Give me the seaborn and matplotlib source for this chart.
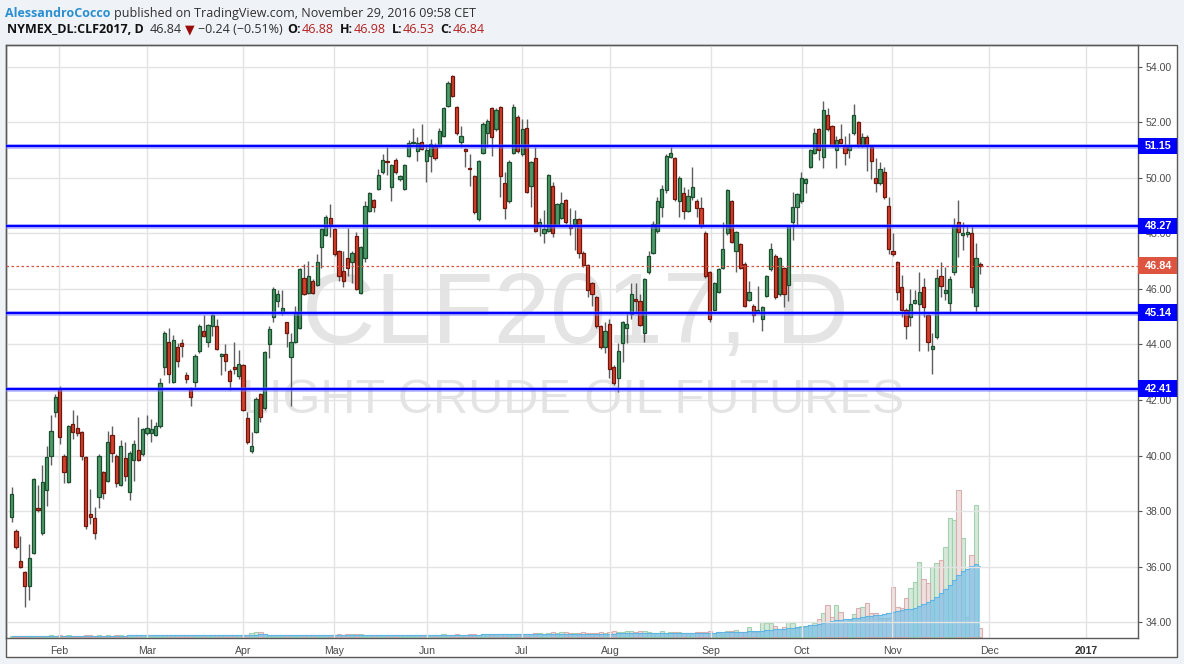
import numpy as np
import pandas as pd
import matplotlib
matplotlib.use("Agg")
import matplotlib.pyplot as plt
import matplotlib.transforms as mtransforms
from matplotlib.patches import Rectangle
import seaborn as sns

# ---------------- data ----------------
opens = [37.8, 37.3, 36.2, 35.8, 35.3, 36.5, 38.1, 37.2, 38.75, 40.0, 41.55, 42.4, 40.0, 39.05, 41.15, 41.0, 40.85, 39.95, 37.9, 37.75,
         38.5, 39.4, 39.1, 40.75, 40.0, 38.95, 39.9, 38.7, 39.85, 40.2, 40.05, 40.8, 40.8, 40.75, 41.05, 43.2, 44.1, 42.65, 43.9, 44.05,
         42.9, 42.4, 42.65, 43.75, 44.5, 44.1, 44.65, 44.65, 43.6, 43.65, 43.05, 43.2, 42.85, 43.25, 41.35, 40.15, 40.85, 42.2, 41.7, 44.0,
         45.0, 45.55, 45.15, 44.8, 43.55, 44.1, 44.6, 46.4, 45.85, 46.3, 46.15, 47.5, 47.95, 48.55, 48.15, 47.35, 46.65, 47.1, 46.95, 47.9,
         45.85, 47.1, 48.8, 49.2, 49.6, 50.2, 50.6, 49.65, 50.65, 49.95, 49.6, 50.8, 51.25, 50.95, 51.3, 50.6, 50.8, 51.15, 51.15, 51.5,
         52.6, 53.65, 52.55, 51.3, 51.05, 50.35, 50.05, 48.5, 50.9, 51.6, 52.5, 51.75, 52.55, 49.8, 49.15, 50.9, 52.2, 50.85, 51.8, 49.7,
         50.7, 48.25, 48.0, 48.1, 49.7, 48.3, 48.55, 49.2, 48.3, 48.35, 48.5, 47.3, 46.85, 46.2, 45.7, 44.65, 43.9, 44.75, 43.2, 42.8,
         44.05, 44.6, 45.1, 45.65, 45.55, 44.4, 46.6, 47.3, 48.1, 48.95, 49.55, 50.75, 50.7, 49.15, 49.45, 48.8, 49.3, 49.15, 48.9, 48.0,
         46.6, 45.25, 45.9, 46.75, 48.0, 49.15, 47.35, 47.6, 46.9, 45.6, 45.4, 45.18, 44.9, 45.75, 46.7, 47.2, 45.8, 46.75, 46.15, 48.4,
         48.95, 49.15, 49.8, 50.4, 50.9, 51.75, 50.75, 52.25, 51.85, 51.0, 51.4, 51.15, 51.0, 51.6, 52.0, 51.15, 51.45, 51.1, 50.0, 49.8,
         50.2, 49.0, 47.35, 46.95, 46.05, 45.25, 45.0, 45.5, 45.45, 46.05, 45.05, 43.85, 44.25, 46.45, 45.85, 45.5, 46.6, 48.4, 47.95, 47.98,
         48.0, 45.4, 46.88]
highs = [38.87, 37.35, 37.1, 35.85, 36.8, 39.2, 38.95, 39.65, 40.35, 41.45, 42.2, 42.5, 40.05, 41.1, 41.65, 41.45, 40.9, 40.0, 38.8, 38.15,
         40.05, 39.45, 40.9, 41.05, 40.05, 40.55, 40.5, 40.15, 40.55, 41.4, 41.0, 41.45, 41.3, 41.2, 42.8, 44.5, 44.6, 44.35, 44.05, 44.2,
         43.0, 42.47, 43.65, 44.75, 45.05, 44.75, 45.1, 44.9, 43.7, 44.0, 43.1, 44.1, 43.8, 43.3, 41.55, 40.85, 42.1, 42.25, 43.75, 44.65,
         46.05, 45.95, 45.95, 44.82, 44.4, 45.4, 46.75, 46.9, 47.0, 46.35, 47.25, 48.2, 48.65, 49.05, 48.2, 47.4, 47.35, 48.2, 47.35, 48.05,
         47.55, 49.15, 49.5, 49.25, 50.3, 50.85, 51.1, 50.5, 50.7, 50.1, 50.5, 51.35, 51.8, 51.45, 51.95, 51.2, 51.4, 51.25, 51.8, 52.55,
         53.5, 53.7, 52.6, 51.85, 51.08, 50.85, 50.1, 50.65, 52.0, 52.1, 52.55, 52.5, 52.6, 50.2, 50.65, 52.65, 52.25, 52.1, 52.1, 50.6,
         51.1, 48.55, 48.85, 50.15, 49.85, 49.1, 49.5, 49.25, 48.9, 48.85, 48.55, 47.35, 46.9, 46.25, 45.75, 44.7, 44.8, 44.9, 43.25, 44.05,
         44.85, 45.15, 46.2, 46.2, 45.8, 46.4, 47.35, 48.45, 49.3, 49.75, 50.85, 51.1, 50.75, 50.05, 49.65, 49.6, 50.4, 49.25, 49.3, 48.1,
         46.65, 46.25, 46.75, 48.4, 49.6, 49.2, 48.1, 47.65, 46.95, 46.3, 45.45, 46.1, 45.4, 46.5, 47.65, 47.25, 47.15, 46.8, 48.3, 49.5,
         49.45, 50.2, 50.0, 51.05, 51.8, 51.8, 52.75, 52.5, 51.9, 51.5, 51.95, 51.5, 51.6, 52.65, 52.05, 51.6, 51.55, 51.15, 50.7, 50.55,
         50.4, 49.3, 48.0, 47.0, 46.5, 45.3, 46.0, 45.95, 46.6, 46.4, 45.1, 44.4, 46.7, 46.95, 46.8, 46.45, 48.55, 49.2, 48.4, 48.3,
         48.3, 47.65, 46.98]
lows = [37.6, 36.65, 35.95, 34.55, 34.8, 36.45, 37.95, 37.15, 38.2, 39.65, 41.4, 40.4, 39.0, 39.0, 40.6, 40.7, 39.85, 37.35, 37.55, 37.0,
        38.1, 38.45, 39.05, 39.75, 38.85, 38.9, 39.1, 38.4, 39.1, 39.8, 40.0, 40.75, 40.5, 40.7, 41.0, 42.9, 42.6, 42.6, 43.2, 43.55,
        42.6, 41.8, 42.45, 43.7, 44.25, 43.9, 44.3, 43.8, 42.9, 43.05, 42.35, 42.95, 42.75, 41.6, 40.4, 40.1, 40.8, 41.2, 41.65, 43.5,
        44.8, 45.35, 45.05, 43.9, 41.8, 44.05, 44.55, 45.78, 45.8, 45.8, 46.1, 46.75, 47.9, 47.85, 47.2, 46.3, 46.05, 46.45, 46.2, 45.95,
        45.8, 46.95, 48.75, 48.75, 49.55, 50.15, 50.1, 49.15, 50.15, 49.9, 49.55, 50.75, 51.2, 50.6, 51.0, 49.85, 50.2, 50.65, 51.1, 51.45,
        52.55, 52.9, 51.55, 51.1, 50.4, 49.7, 48.7, 48.45, 50.85, 51.1, 50.8, 51.7, 49.3, 48.5, 49.1, 50.85, 50.9, 50.8, 49.45, 48.95,
        48.05, 47.9, 47.65, 48.05, 47.85, 48.25, 48.5, 48.35, 47.95, 47.4, 47.1, 46.8, 45.7, 45.4, 44.6, 43.85, 43.7, 42.8, 42.55, 42.3,
        43.35, 44.05, 44.9, 45.15, 44.65, 44.1, 46.55, 47.25, 48.0, 48.6, 49.45, 50.7, 49.15, 48.6, 48.5, 48.75, 49.2, 48.6, 48.2, 46.4,
        44.8, 45.2, 45.85, 46.7, 47.95, 47.65, 46.6, 46.7, 45.35, 45.55, 44.8, 45.15, 44.5, 45.7, 46.65, 45.65, 45.75, 45.35, 45.55, 47.75,
        48.25, 49.1, 49.45, 50.35, 50.85, 50.65, 50.35, 51.7, 51.1, 50.35, 51.2, 50.45, 50.7, 51.55, 51.1, 51.1, 50.25, 49.95, 49.5, 49.75,
        49.25, 47.25, 47.2, 45.6, 45.0, 44.2, 44.65, 45.45, 43.75, 45.0, 43.75, 42.95, 44.2, 45.7, 45.6, 45.15, 46.5, 47.15, 47.4, 47.85,
        45.85, 45.15, 46.53]
closes = [38.6, 36.7, 36.0, 35.3, 36.3, 39.15, 38.05, 39.05, 39.95, 40.9, 42.1, 40.65, 39.4, 41.05, 40.85, 40.8, 40.0, 37.45, 37.8, 37.2,
          40.0, 38.65, 40.5, 40.1, 39.0, 40.35, 39.25, 40.1, 40.4, 39.85, 40.95, 41.0, 40.95, 41.05, 42.6, 44.4, 42.95, 44.15, 43.4, 43.95,
          42.75, 42.1, 43.6, 44.65, 44.3, 44.7, 45.05, 43.85, 43.62, 43.4, 42.7, 43.1, 43.3, 41.65, 40.5, 40.35, 42.05, 41.4, 43.73, 44.55,
          46.0, 45.8, 45.3, 44.4, 44.1, 45.15, 46.7, 45.8, 46.45, 45.85, 46.95, 48.15, 48.6, 48.35, 47.25, 46.45, 46.3, 46.75, 47.3, 46.0,
          47.5, 49.0, 49.45, 48.95, 50.1, 50.65, 50.55, 50.45, 50.2, 50.05, 50.45, 51.25, 51.3, 51.25, 51.05, 51.0, 51.2, 50.7, 51.7, 52.5,
          53.4, 52.95, 51.6, 51.5, 50.98, 50.3, 48.75, 50.6, 51.95, 52.05, 51.45, 52.45, 50.05, 48.9, 50.55, 52.55, 50.95, 51.75, 49.5, 50.55,
          48.1, 48.4, 48.15, 50.1, 48.0, 49.05, 49.1, 48.4, 48.2, 48.5, 47.3, 46.85, 45.95, 45.8, 44.65, 43.9, 44.5, 43.1, 42.6, 43.75,
          44.8, 44.75, 45.8, 45.55, 44.7, 46.35, 47.2, 48.35, 49.15, 49.6, 50.8, 50.9, 49.25, 50.0, 48.8, 49.35, 49.65, 48.9, 48.25, 46.45,
          44.9, 46.2, 46.7, 47.45, 49.55, 47.7, 48.05, 46.75, 45.4, 45.9, 45.05, 45.22, 45.35, 46.45, 47.45, 45.7, 47.1, 45.8, 48.25, 48.95,
          49.4, 50.0, 49.95, 51.0, 51.6, 51.0, 52.45, 51.75, 51.15, 51.35, 51.25, 50.9, 51.15, 52.25, 51.15, 51.45, 51.15, 50.6, 49.8, 50.3,
          49.3, 47.45, 47.25, 45.9, 45.25, 44.65, 45.45, 45.6, 45.9, 45.35, 44.1, 43.95, 46.4, 46.1, 45.95, 46.35, 48.25, 48.05, 48.0, 48.02,
          46.05, 47.1, 46.84]
volumes = [0.8, 0.6, 0.7, 0.9, 0.8, 1.0, 0.7, 0.9, 1.0, 1.2, 1.1,
           1.3, 1.0, 1.2, 1.1, 0.9, 1.0, 1.4, 1.2, 1.0, 1.3, 1.1, 1.2, 1.0, 1.4, 1.2, 1.1, 1.3, 1.5, 1.2, 1.3,
           1.4, 1.2, 1.3, 1.6, 1.8, 1.5, 1.4, 1.6, 1.3, 1.2, 1.5, 1.4, 1.6, 1.5, 1.3, 1.4, 1.7, 1.5, 1.3, 1.4, 1.6, 1.5,
           1.8, 2.0, 3.5, 4.2, 4.8, 2.5, 2.0, 1.8, 1.6, 1.5, 1.7, 1.6, 1.4, 1.5, 1.8, 1.6, 1.5, 1.7, 1.9, 1.6,
           2.0, 1.8, 2.4, 1.9, 2.2, 2.6, 3.0, 2.4, 2.0, 1.8, 1.7, 1.9, 2.0, 1.8, 1.6, 1.7, 1.9, 1.8, 1.6, 1.5, 1.7, 1.8,
           1.6, 1.8, 2.0, 1.9, 2.2, 2.0, 1.8, 2.3, 2.1, 1.9, 2.4, 2.2, 2.0, 2.6, 2.3, 2.1, 2.5, 2.8, 2.4, 2.6, 2.2, 2.4,
           2.8, 3.0, 2.6, 3.2, 3.4, 2.9, 3.6, 4.2, 3.8, 5.0, 4.4, 3.6, 4.0, 3.8, 4.2, 3.6, 4.0, 3.8, 4.4, 4.0,
           4.6, 5.2, 4.4, 4.8, 5.6, 6.0, 4.8, 5.2, 5.8, 4.6,
           3.3, 3.3, 6.0, 4.0, 5.0, 5.0, 5.0, 4.0, 4.0, 4.0, 5.0, 5.0, 5.0, 6.0, 4.0, 4.0, 2.7, 6.0, 6.0, 6.7,
           5.0, 5.0, 9.3, 5.0, 5.0, 15.0, 13.3, 14.0, 10.7, 7.7, 10.0, 15.0, 13.3, 8.3, 11.0, 11.0, 11.7, 14.0, 17.3, 24.0,
           31.7, 20.0, 32.0, 25.0, 13.3, 16.7, 22.3, 28.3, 29.3, 33.3, 23.3, 23.3, 18.3, 18.3, 18.3, 50.0, 30.0, 28.3, 38.3, 48.3,
           55.0, 75.0, 57.3, 54.0, 69.3, 74.0, 76.7, 90.0, 118.3, 116.7, 146.7, 98.3, 20.0, 81.7, 131.7, 8.3]
volume_ma = [0.5, 0.5, 0.6, 0.6, 0.6, 0.7, 0.7, 0.7, 0.8, 0.8, 0.8,
             0.8, 0.9, 0.9, 0.9, 0.9, 1.0, 1.0, 1.0, 1.0, 1.0, 1.1, 1.1, 1.1, 1.1, 1.1, 1.1, 1.2, 1.2, 1.2, 1.2,
             1.2, 1.2, 1.3, 1.3, 1.3, 1.3, 1.3, 1.3, 1.3, 1.3, 1.4, 1.4, 1.4, 1.4, 1.4, 1.4, 1.4, 1.4, 1.4, 1.4, 1.5, 1.5,
             1.5, 1.6, 1.8, 2.0, 2.2, 2.2, 2.1, 2.0, 1.9, 1.8, 1.7, 1.7, 1.6, 1.6, 1.6, 1.6, 1.6, 1.6, 1.6, 1.6,
             1.7, 1.7, 1.8, 1.8, 1.9, 2.0, 2.1, 2.1, 2.0, 2.0, 1.9, 1.9, 1.9, 1.8, 1.8, 1.8, 1.8, 1.8, 1.7, 1.7, 1.7, 1.7,
             1.7, 1.7, 1.8, 1.8, 1.9, 1.9, 1.9, 2.0, 2.0, 2.0, 2.1, 2.1, 2.1, 2.2, 2.2, 2.2, 2.3, 2.3, 2.3, 2.4, 2.4, 2.4,
             2.4, 2.4, 2.5, 2.5, 2.5, 2.6, 2.6, 2.6, 2.7, 2.7, 2.8, 2.8, 2.8, 2.9, 2.9, 2.9, 3.0, 3.0, 3.0, 3.1,
             3.1, 3.1, 3.2, 3.2, 3.2, 3.3, 3.3, 3.3, 3.3, 3.3,
             3.3, 3.4, 3.4, 3.5, 3.5, 3.6, 3.6, 3.7, 3.7, 3.8, 3.8, 3.9, 3.9, 4.0, 4.1, 4.2, 4.3, 4.5, 4.6, 4.8,
             5.0, 5.1, 5.3, 5.5, 5.7, 6.0, 6.4, 6.8, 7.2, 7.6, 8.0, 8.5, 9.0, 9.5, 10.0, 10.6, 11.2, 11.9, 12.6, 13.4,
             14.3, 15.2, 16.2, 16.9, 17.3, 17.9, 18.5, 19.1, 19.8, 20.5, 21.0, 21.5, 22.0, 22.6, 23.4, 25.0, 25.8, 26.4, 27.2, 28.0,
             29.0, 31.0, 32.7, 34.5, 37.0, 40.0, 43.5, 47.5, 51.7, 56.5, 62.0, 65.5, 68.0, 70.5, 72.7, 71.0]

month_labels = ["Feb", "Mar", "Apr", "May", "Jun", "Jul", "Aug", "Sep", "Oct", "Nov", "Dec", "2017"]
month_pos = [10.84, 31.0, 53.0, 73.9, 95.2, 116.9, 137.1, 160.3, 181.1, 201.8, 224.0, 246.2]
price_ticks = [34, 36, 38, 40, 42, 44, 46, 48, 50, 52, 54]
levels = [51.15, 48.27, 45.14, 42.41]
last_price = 46.84

# ---------------- figure ----------------
W, H = 1184, 664
sns.set_style("white")
plt.rcParams["font.family"] = ["Liberation Sans", "DejaVu Sans"]
BG = "#eff2f6"
fig = plt.figure(figsize=(W / 100, H / 100), dpi=100, facecolor=BG)

L, R, T, B = 6, 1138, 44.7, 638
ax = fig.add_axes([L / W, 1 - B / H, (R - L) / W, (B - T) / H])
ax2 = ax.twinx()
ax.set_zorder(ax2.get_zorder() + 1)
ax.patch.set_visible(False)
ax2.patch.set_visible(False)

# outer white panel with frame
fig.add_artist(Rectangle((L / W, 1 - 657 / H), (1177 - L) / W, (657 - T) / H,
                         transform=fig.transFigure, facecolor="white",
                         edgecolor="#5a5a5a", linewidth=1.0, zorder=-5))

n = len(opens)
idx = np.arange(n)
o = np.array(opens); c = np.array(closes); h = np.array(highs); lo = np.array(lows)
up = c >= o

# ---------------- volume (seaborn) ----------------
vol_df = pd.DataFrame({"idx": idx, "volume": volumes, "dir": np.where(up, "up", "down")})
sns.barplot(data=vol_df, x="idx", y="volume", hue="dir", hue_order=["up", "down"],
            palette={"up": "#cdebd5", "down": "#f1dada"}, native_scale=True, dodge=False,
            width=1.0, errorbar=None, legend=False, ax=ax2, linewidth=0.8, alpha=0.9)
for cont, ec in zip(ax2.containers, ["#9ccfaa", "#d6aaaa"]):
    for bar in cont:
        bar.set_edgecolor(ec)
ax2.fill_between(idx, 0, volume_ma, step="mid", color="#7cc2e8", alpha=0.75, linewidth=0, zorder=3)
ax2.step(idx, volume_ma, where="mid", color="#62b5e2", linewidth=0.8, zorder=3)
ax2.set_ylim(-1.3, B - T - 1.3)
ax2.set_yticks([])
ax2.set_xlabel(""); ax2.set_ylabel("")
for s in ax2.spines.values():
    s.set_visible(False)

# ---------------- price pane ----------------
ax.text(0.5027, 0.4972, "CLF2017, D", transform=ax.transAxes, ha="center", va="baseline",
        fontsize=73, color="#e4e4e4", family="Liberation Sans", zorder=0.3)
ax.text(0.5014, 0.379, "LIGHT CRUDE OIL FUTURES", transform=ax.transAxes, ha="center", va="baseline",
        fontsize=35, color="#e4e4e4", family="Liberation Sans", zorder=0.3)

ax.vlines(idx, lo, h, color="#5e5e5e", linewidth=1.0, zorder=3)
body_bot = np.minimum(o, c)
body_h = np.maximum(np.abs(c - o), 0.05)
ax.bar(idx[up], body_h[up], bottom=body_bot[up], width=0.74, color="#4e9b68",
       edgecolor="#1c4f30", linewidth=0.9, zorder=4)
ax.bar(idx[~up], body_h[~up], bottom=body_bot[~up], width=0.74, color="#d5402d",
       edgecolor="#6d170d", linewidth=0.9, zorder=4)

# support / resistance levels
for lv in levels:
    ax.axhline(lv, color="#7b7bff", linewidth=3.4, alpha=0.55, zorder=6)
    ax.axhline(lv, color="#0000ff", linewidth=1.6, zorder=6.1)
ax.axhline(last_price, color="#d9503f", linewidth=0.9, linestyle=(0, (2, 2)), zorder=5)

ax.set_xlim(-1.31, 258.15)
ax2.set_xlim(-1.31, 258.15)
ax.set_ylim(33.43, 54.79)

ax.set_xticks(month_pos)
ax.set_xticklabels(month_labels)
ax.set_yticks(price_ticks)
ax.set_yticklabels([f"{p:.2f}" for p in price_ticks])
ax.yaxis.tick_right()
ax.tick_params(axis="y", which="both", left=False, right=True, labelleft=False, labelright=True,
               length=3, width=0.8, color="#555555", pad=2.5, labelsize=7.6, labelcolor="#4a4a4a")
ax.tick_params(axis="x", length=3, width=0.8, color="#555555", pad=2.5, labelsize=7.6, labelcolor="#4a4a4a")
ax.get_xticklabels()[-1].set_fontweight("bold")
ax.get_xticklabels()[-1].set_color("#333333")
ax.grid(True, color="#e3e3e3", linewidth=1.0, zorder=0.5)
ax.set_axisbelow(True)
for s in ax.spines.values():
    s.set_visible(True)
    s.set_color("#5a5a5a")
    s.set_linewidth(1.0)

# price labels on right axis
blend = mtransforms.blended_transform_factory(ax.transAxes, ax.transData)
box_w = (1177 - R) / (R - L)
box_h = 16.5 / ((B - T) / (54.79 - 33.43))
for lv, col in [(l_, "#0000ff") for l_ in levels] + [(last_price, "#dd5440")]:
    ax.add_patch(Rectangle((1.0, lv - box_h / 2), box_w, box_h, transform=blend,
                           facecolor=col, edgecolor="none", clip_on=False, zorder=10))
    ax.text(1.0 + box_w / 2 + 0.0008, lv, f"{lv:.2f}", transform=blend, ha="center", va="center",
            color="white", fontsize=7.8, fontweight="bold", clip_on=False, zorder=11)

# ---------------- header (segments laid out one after another) ----------------
HF = ["Open Sans", "DejaVu Sans"]
fs = 9.0
renderer = fig.canvas.get_renderer()

def header_line(x0, y, segments):
    x = x0
    for s, color, weight, gap in segments:
        t = fig.text(x / W, 1 - y / H, s, color=color, fontsize=fs, fontweight=weight,
                     family=HF, ha="left", va="baseline")
        x += t.get_window_extent(renderer).width + gap

DK, RD, TX = "#111111", "#b32121", "#2f2f2f"
header_line(5, 16.7, [
    ("AlessandroCocco", "#2a8fd0", "bold", 4.0),
    ("published on TradingView.com, November 29, 2016 09:58 CET", TX, "normal", 0),
])
header_line(7, 33.3, [
    ("NYMEX_DL:CLF2017, D", DK, "bold", 5.5),
    ("46.84", TX, "normal", 3.5),
    ("▼", "#9b0d0d", "normal", 3.5),
    ("\u22120.24 (\u22120.51%)", TX, "normal", 5.0),
    ("O:", DK, "bold", 0.5),
    ("46.88", RD, "normal", 6.0),
    ("H:", DK, "bold", 0.5),
    ("46.98", RD, "normal", 6.0),
    ("L:", DK, "bold", 0.5),
    ("46.53", RD, "normal", 6.0),
    ("C:", DK, "bold", 0.5),
    ("46.84", RD, "normal", 0),
])

fig.savefig("out.png", dpi=100, facecolor=BG)
